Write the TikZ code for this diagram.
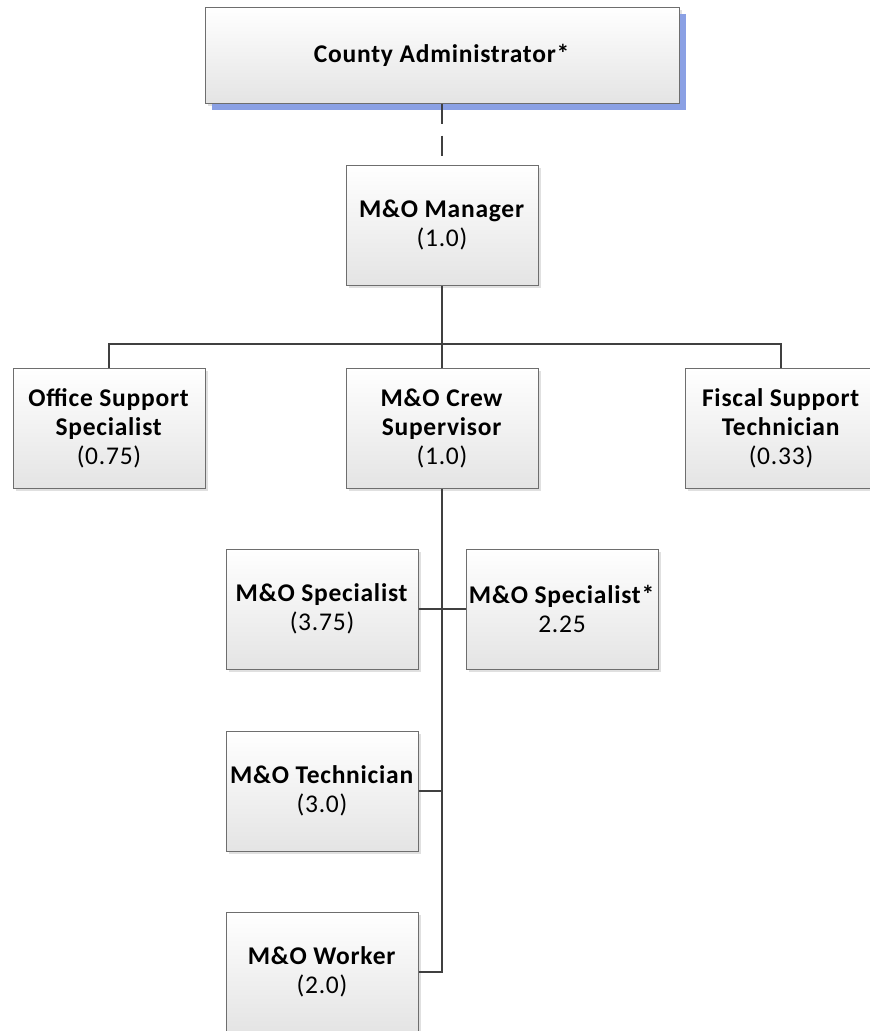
\documentclass[tikz,border=0pt]{standalone}
\usepackage{fontspec}
\setmainfont{Carlito}[LetterSpace=3]
\usetikzlibrary{shadows}
\definecolor{linec}{RGB}{64,64,64}
\definecolor{boxborder}{RGB}{110,110,110}
\definecolor{boxbot}{RGB}{228,228,228}
\definecolor{blueshadow}{RGB}{138,160,228}
\begin{document}
\begin{tikzpicture}[x=1pt,y=-1pt,
  orgbox/.style={rectangle, draw=boxborder, line width=1pt, top color=white, bottom color=boxbot,
    minimum width=192pt, minimum height=120pt, inner sep=0pt, align=center,
    font=\fontsize{25.5}{29}\selectfont,
    drop shadow={shadow xshift=3pt, shadow yshift=-3pt, fill=black, opacity=0.12}},
  topbox/.style={orgbox, minimum width=474pt, minimum height=96pt,
    drop shadow={shadow xshift=7pt, shadow yshift=-7pt, fill=blueshadow, opacity=1}},
  conn/.style={draw=linec, line width=2.5pt}]
\useasboundingbox (0,0) rectangle (870,1031);
\begin{scope}
\clip (0,0) rectangle (870,1031);
\coordinate (bus) at (442,344);
\node[topbox] (county) at (442,55) {\textbf{County Administrator*}};
\node[orgbox] (mgr) at (442,225) {\textbf{M\&O Manager}\\(1.0)};
\node[orgbox] (office) at (109,428) {\textbf{Office Support}\\\textbf{Specialist}\\(0.75)};
\node[orgbox] (crew) at (442,428) {\textbf{M\&O Crew}\\\textbf{Supervisor}\\(1.0)};
\node[orgbox] (fiscal) at (781,428) {\textbf{Fiscal Support}\\\textbf{Technician}\\(0.33)};
\node[orgbox] (spec) at (322,609) {\textbf{M\&O Specialist}\\(3.75)};
\node[orgbox] (specb) at (562,609) {\textbf{M\&O Specialist*}\\2.25};
\node[orgbox] (tech) at (322,791) {\textbf{M\&O Technician}\\(3.0)};
\node[orgbox] (worker) at (322,972) {\textbf{M\&O Worker}\\(2.0)};
\draw[conn, dash pattern=on 20pt off 12pt] (county.south) -- (mgr.north);
\draw[conn] (mgr.south) -- (crew.north);
\draw[conn] (office.north) |- (bus) -| (fiscal.north);
\draw[conn] (crew.south) |- (worker.east);
\draw[conn] (spec.east) -- (specb.west);
\draw[conn] (tech.east) -- (tech.east -| crew.south);
\end{scope}
\end{tikzpicture}
\end{document}
